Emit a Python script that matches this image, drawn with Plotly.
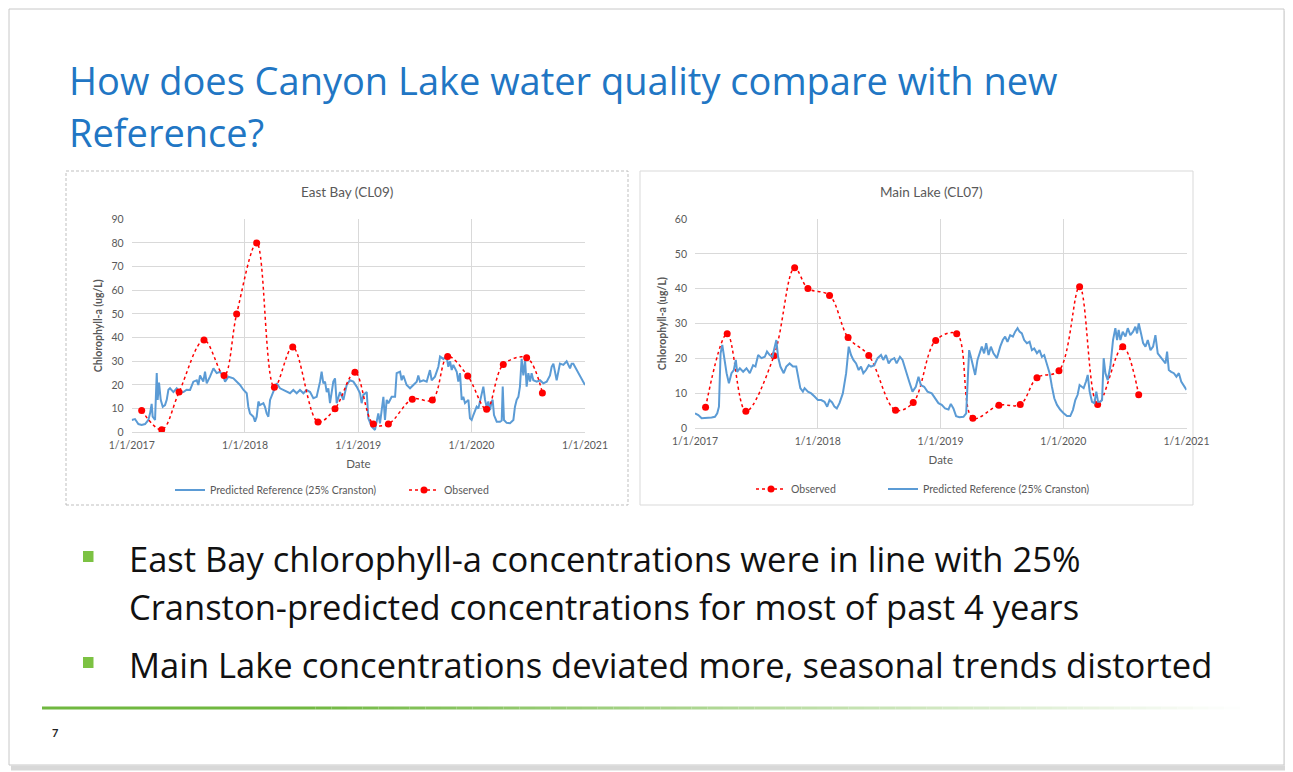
import plotly.graph_objects as go
import pandas as pd
import numpy as np

W, H = 1293, 772

# ---------------- DATA ----------------
year_ticks = [2017, 2018, 2019, 2020, 2021]
year_labels = ["1/1/2017", "1/1/2018", "1/1/2019", "1/1/2020", "1/1/2021"]

# East Bay (CL09) observed (decimal year, ug/L)
eb_obs_t = [2017.088, 2017.265, 2017.418, 2017.638, 2017.815, 2017.926, 2018.103, 2018.259,
            2018.421, 2018.644, 2018.794, 2018.970, 2019.132, 2019.265, 2019.476, 2019.653,
            2019.788, 2019.965, 2020.132, 2020.279, 2020.485, 2020.624]
eb_obs_v = [9.2, 1.1, 17, 39, 24, 50, 80, 19, 36, 4.4, 10, 25.4, 3.5, 3.5, 14, 13.7,
            32, 23.8, 9.7, 28.6, 31.5, 16.6]

# East Bay predicted reference (25% Cranston)
eb_ref_t = [2017.000, 2017.029, 2017.059, 2017.088, 2017.118, 2017.147, 2017.162, 2017.176, 2017.185,
            2017.206, 2017.221, 2017.229, 2017.241, 2017.256, 2017.274, 2017.294, 2017.309, 2017.324,
            2017.338, 2017.368, 2017.397, 2017.426, 2017.456, 2017.485, 2017.515, 2017.544, 2017.574,
            2017.588, 2017.603, 2017.632, 2017.647, 2017.662, 2017.691, 2017.721, 2017.750, 2017.779,
            2017.809, 2017.824, 2017.853, 2017.897, 2017.956, 2017.985, 2018.015, 2018.029, 2018.044,
            2018.074, 2018.088, 2018.103, 2018.118, 2018.132, 2018.162, 2018.176, 2018.191, 2018.206,
            2018.221, 2018.250, 2018.279, 2018.309, 2018.338, 2018.368, 2018.397, 2018.426, 2018.456,
            2018.485, 2018.515, 2018.544, 2018.574, 2018.603, 2018.632, 2018.662, 2018.676, 2018.691,
            2018.706, 2018.721, 2018.735, 2018.750, 2018.779, 2018.794, 2018.809, 2018.838, 2018.868,
            2018.897, 2018.926, 2018.956, 2018.985, 2019.015, 2019.029, 2019.044, 2019.074,
            2019.088, 2019.103, 2019.118, 2019.147, 2019.176, 2019.191, 2019.206, 2019.221, 2019.235,
            2019.250, 2019.265, 2019.294, 2019.324, 2019.338, 2019.368, 2019.382, 2019.397, 2019.426,
            2019.456, 2019.485, 2019.515, 2019.529, 2019.544, 2019.574, 2019.603, 2019.632, 2019.647,
            2019.676, 2019.706, 2019.721, 2019.750, 2019.779, 2019.794, 2019.809, 2019.824, 2019.838,
            2019.868, 2019.882, 2019.897, 2019.912, 2019.926, 2019.941, 2019.971, 2019.985, 2020.000,
            2020.015, 2020.044, 2020.059, 2020.074, 2020.088, 2020.103, 2020.118, 2020.132, 2020.147,
            2020.162, 2020.176, 2020.185, 2020.197, 2020.221, 2020.250, 2020.265, 2020.274, 2020.285,
            2020.309, 2020.338, 2020.368, 2020.382, 2020.397, 2020.412, 2020.426, 2020.441, 2020.456,
            2020.471, 2020.485, 2020.500, 2020.515, 2020.529, 2020.544, 2020.574, 2020.603, 2020.632,
            2020.662, 2020.691, 2020.706, 2020.721, 2020.750, 2020.765, 2020.779, 2020.809, 2020.838,
            2020.868, 2020.882, 2020.897, 2020.926, 2020.956, 2020.985, 2021.000]
eb_ref_v = [5.2, 5.6, 3.5, 3.1, 3.5, 5.2, 8, 12, 6.6,
            5.2, 25, 13.7, 21, 13.7, 10.8, 11.5, 13.7, 18,
            18.6, 17, 18.6, 16.8, 17, 18, 17.9, 21.4, 22,
            20, 24, 21.4, 25.6, 20.7, 23.5, 27, 25, 25.6,
            23.5, 21.4, 23.5, 22.8, 20, 18, 16.5, 10.8, 8,
            6.6, 4.5, 6.6, 13, 11.5, 12.3, 10.8, 8, 6.6,
            13.7, 17, 20.7, 18.6, 17.9, 17, 16.5, 17.9, 16.5,
            17.9, 16.5, 17.9, 17, 14.4, 15, 21.4, 25.6, 20.7,
            21.4, 17, 18.6, 12.3, 21.4, 22.8, 12.3, 17, 13.7,
            20, 22, 21.4, 19.3, 16.5, 12.3, 15.8, 17,
            5.9, 3.8, 2.4, 1.0, 8, 3.8, 10.8, 15, 5.2,
            13.7, 12.3, 15, 15, 25, 25.6, 22, 24, 20,
            18.6, 20, 21.4, 24, 21.4, 22, 21.4, 26.3, 22,
            23.5, 27.7, 32, 31, 32, 27.7, 30, 26.3, 28.5,
            25.6, 21.4, 25, 13.7, 15, 12.3, 13.7, 5.9, 5.2,
            7.3, 10.8, 10, 13.7, 16.5, 19.3, 13.7, 10.8, 13,
            9.4, 13, 13.7, 7.3, 4.5, 4.5, 5, 19.3, 5.2,
            4, 3.8, 5.2, 10.8, 13.7, 15, 19.3, 31, 24,
            30.6, 19.3, 25, 21.4, 25, 22, 21.4, 22, 20.7,
            21.4, 24, 27.7, 29, 22, 26.3, 29, 28.5, 30,
            27, 29, 29, 26.3, 23.5, 21.4, 20]

# Main Lake (CL07) observed
ml_obs_t = [2017.086, 2017.262, 2017.414, 2017.643, 2017.811, 2017.919, 2018.095, 2018.246,
            2018.414, 2018.632, 2018.776, 2018.959, 2019.130, 2019.261, 2019.473, 2019.647,
            2019.783, 2019.962, 2020.130, 2020.277, 2020.481, 2020.611]
ml_obs_v = [6.0, 27.1, 4.9, 20.8, 46, 40.1, 38.1, 26, 20.9, 5.2, 7.4, 25.2, 27.1, 2.9, 6.6, 6.8,
            14.5, 16.5, 40.6, 6.8, 23.4, 9.6]

# Main Lake predicted reference (25% Cranston)
ml_ref_t = [2017.000, 2017.027, 2017.054, 2017.095, 2017.135, 2017.162, 2017.181, 2017.195, 2017.208,
            2017.222, 2017.235, 2017.257, 2017.276, 2017.297, 2017.316, 2017.332, 2017.343, 2017.365,
            2017.392, 2017.419, 2017.446, 2017.473, 2017.492, 2017.514, 2017.541, 2017.568, 2017.586,
            2017.608, 2017.630, 2017.649, 2017.662, 2017.676, 2017.695, 2017.722, 2017.743, 2017.770,
            2017.797, 2017.824, 2017.838, 2017.857, 2017.878, 2017.892, 2017.919, 2017.946, 2017.973,
            2018.000, 2018.027, 2018.054, 2018.076, 2018.095, 2018.116, 2018.135, 2018.154, 2018.176,
            2018.203, 2018.230, 2018.251, 2018.270, 2018.289, 2018.311, 2018.332, 2018.351, 2018.370,
            2018.392, 2018.414, 2018.432, 2018.459, 2018.486, 2018.514, 2018.532, 2018.554, 2018.576,
            2018.595, 2018.622, 2018.641, 2018.668, 2018.689, 2018.716, 2018.743, 2018.770, 2018.797,
            2018.819, 2018.838, 2018.865, 2018.892, 2018.927, 2018.954, 2018.981, 2019.008, 2019.035,
            2019.063, 2019.082, 2019.103, 2019.125, 2019.152, 2019.185, 2019.207, 2019.217, 2019.231,
            2019.245, 2019.261, 2019.280, 2019.299, 2019.315, 2019.334, 2019.353, 2019.370, 2019.389,
            2019.408, 2019.429, 2019.457, 2019.484, 2019.505, 2019.524, 2019.543, 2019.565, 2019.587,
            2019.606, 2019.625, 2019.641, 2019.660, 2019.679, 2019.701, 2019.723, 2019.742, 2019.761,
            2019.783, 2019.804, 2019.823, 2019.842, 2019.864, 2019.886, 2019.905, 2019.924, 2019.946,
            2019.973, 2020.000, 2020.027, 2020.054, 2020.076, 2020.095, 2020.114, 2020.130, 2020.144,
            2020.163, 2020.182, 2020.196, 2020.212, 2020.231, 2020.250, 2020.266, 2020.280, 2020.299,
            2020.313, 2020.326, 2020.340, 2020.359, 2020.380, 2020.402, 2020.421, 2020.435, 2020.448,
            2020.462, 2020.481, 2020.503, 2020.522, 2020.543, 2020.565, 2020.584, 2020.598, 2020.611,
            2020.630, 2020.647, 2020.666, 2020.685, 2020.707, 2020.728, 2020.747, 2020.766, 2020.788,
            2020.810, 2020.829, 2020.842, 2020.856, 2020.875, 2020.897, 2020.918, 2020.938, 2020.957,
            2020.978, 2021.000]
ml_ref_v = [4.3, 3.8, 2.9, 2.9, 3.1, 3.3, 4.3, 6.2, 21.5,
            23.9, 20.5, 15.8, 12.9, 15.8, 16.7, 19.6, 16.2, 17.2,
            16.2, 17.2, 15.8, 18.1, 17.7, 21.0, 20.1, 20.5, 22,
            21, 20.5, 23.4, 25.3, 20.5, 17.7, 15.8, 17.7, 18.6,
            17.7, 17.7, 14.8, 11.5, 10.5, 11.5, 10.5, 10.0, 9.1,
            8.1, 8.1, 7.6, 6.2, 8.1, 7.4, 6.2, 5.7, 7.2,
            10.0, 15.8, 23.4, 21, 19.6, 18.6, 16.7, 17.7, 15.8,
            16.7, 18.1, 17.7, 18.1, 20.1, 21, 19.6, 21, 18.6,
            19.6, 20.1, 18.6, 20.5, 19.6, 16.2, 13.4, 10.5, 11.9,
            14.8, 12.4, 11.9, 10.5, 10, 8.6, 7.2, 6.7, 5.7,
            5.4, 7, 5.7, 3.5, 3.2, 3.3, 4.3, 13.8, 22.4,
            20.5, 17.7, 15.3, 19.6, 21.5, 23.4, 21.5, 24.4, 21,
            23.4, 21.5, 20.1, 23.4, 25.3, 26.3, 24.8, 26.7, 26.3,
            27.7, 28.7, 27.7, 27.2, 25.3, 24.4, 24.8, 22.4, 22.9,
            21.5, 22.4, 20.5, 21, 18.6, 15.8, 11.9, 8.6, 6.7,
            5.3, 4.3, 3.5, 3.5, 5.3, 8.1, 9.6, 12.4, 11.9,
            11.5, 13.4, 15.3, 10.5, 7.6, 7.2, 10.5, 7.6, 7.6,
            8.1, 20.1, 15.8, 13.8, 17.7, 25.3, 28.7, 25.3, 28.2,
            25.3, 27.7, 26.3, 28.7, 26.7, 27.7, 29.1, 27.2, 30.1,
            27.2, 24.4, 23.4, 25.3, 22.4, 23.4, 26.7, 21.5, 20.5,
            19.6, 18.6, 22, 16.7, 16.2, 15.8, 14.8, 15.8, 13.4,
            12.4, 11]

title_lines = ["How does Canyon Lake water quality compare with new", "Reference?"]
bullets = ["East Bay chlorophyll-a concentrations were in line with 25%",
           "Cranston-predicted concentrations for most of past 4 years",
           "Main Lake concentrations deviated more, seasonal trends distorted"]
ref_name = "Predicted Reference (25% Cranston)"
obs_name = "Observed"


def to_dates(years):
    base = pd.Timestamp("2017-01-01")
    return [base + pd.Timedelta(days=(y - 2017) * 365.25) for y in years]


tick_dates = [pd.Timestamp(f"{y}-01-01") for y in year_ticks]

# ---------------- STYLE ----------------
BLUE = "#5B9BD5"
RED = "#FF0000"
GRID = "#D9D9D9"
TXT = "#595959"
FONT = "Lato"
OFF = 8  # page body margin offset


def px(x):
    return (x - OFF) / W


def py(y):
    return 1 - (y - OFF) / H


fig = go.Figure()

obs_line = dict(color=RED, width=1.5, dash="dot", shape="spline", smoothing=1.0)
# Left chart traces
fig.add_trace(go.Scatter(x=to_dates(eb_ref_t), y=eb_ref_v, mode="lines", name=ref_name,
                         line=dict(color=BLUE, width=2), xaxis="x", yaxis="y", legend="legend"))
fig.add_trace(go.Scatter(x=to_dates(eb_obs_t), y=eb_obs_v, mode="lines+markers", name=obs_name,
                         line=obs_line, marker=dict(color=RED, size=7),
                         xaxis="x", yaxis="y", legend="legend2"))
# Right chart traces
fig.add_trace(go.Scatter(x=to_dates(ml_obs_t), y=ml_obs_v, mode="lines+markers", name=obs_name,
                         line=obs_line, marker=dict(color=RED, size=7),
                         xaxis="x2", yaxis="y2", legend="legend3"))
fig.add_trace(go.Scatter(x=to_dates(ml_ref_t), y=ml_ref_v, mode="lines", name=ref_name,
                         line=dict(color=BLUE, width=2), xaxis="x2", yaxis="y2", legend="legend4"))

common_x = dict(type="date", range=[tick_dates[0], tick_dates[-1]], tickmode="array",
                tickvals=tick_dates, ticktext=year_labels, showgrid=True, gridcolor=GRID,
                gridwidth=1, showline=True, linecolor=GRID, zeroline=False, ticks="",
                ticklabelstandoff=3,
                tickfont=dict(family=FONT, size=10.5, color=TXT),
                title=dict(text="Date", font=dict(family=FONT, size=11.5, color=TXT), standoff=10))
common_y = dict(showgrid=True, gridcolor=GRID, gridwidth=1, zeroline=False, showline=False,
                dtick=10, ticks="", ticklabelstandoff=7,
                tickfont=dict(family=FONT, size=10.5, color=TXT),
                title=dict(text="<b>Chlorophyll-a (ug/L)</b>",
                           font=dict(family=FONT, size=10.5, color=TXT), standoff=6))


def leg(x_sample, y_center):
    return dict(orientation="h", x=px(x_sample - 6), y=py(y_center), xanchor="left", yanchor="middle",
                font=dict(family=FONT, size=10.5, color=TXT), bgcolor="rgba(0,0,0,0)")


fig.update_layout(
    width=W, height=H, margin=dict(l=0, r=0, t=0, b=0, autoexpand=False),
    paper_bgcolor="white", plot_bgcolor="white",
    xaxis=dict(domain=[px(131.7), px(585)], anchor="y", **common_x),
    yaxis=dict(domain=[py(432.3), py(219.3)], anchor="x", range=[0, 90], **common_y),
    xaxis2=dict(domain=[px(695), px(1186.5)], anchor="y2", **common_x),
    yaxis2=dict(domain=[py(428.3), py(219)], anchor="x2", range=[0, 60], **common_y),
    legend=leg(176, 490),
    legend2=leg(410, 490),
    legend3=leg(757, 489),
    legend4=leg(889, 489),
    showlegend=True,
)

shapes = []
# slide border and shadow
shapes.append(dict(type="rect", xref="paper", yref="paper", x0=px(9), x1=px(1284), y0=py(765), y1=py(9),
                   line=dict(color="#C8C8C8", width=1), layer="below"))
shapes.append(dict(type="line", xref="paper", yref="paper", x0=px(1287), x1=px(1287), y0=py(768), y1=py(11),
                   line=dict(color="#D2D2D2", width=5), layer="below"))
shapes.append(dict(type="line", xref="paper", yref="paper", x0=px(11), x1=px(1292), y0=py(768), y1=py(768),
                   line=dict(color="#D8D8D8", width=5), layer="below"))
# chart frames
shapes.append(dict(type="rect", xref="paper", yref="paper", x0=px(66), x1=px(628), y0=py(505), y1=py(171),
                   line=dict(color="#BFBFBF", width=1, dash="3px,2px"), layer="below"))
shapes.append(dict(type="rect", xref="paper", yref="paper", x0=px(640), x1=px(1193), y0=py(505), y1=py(171),
                   line=dict(color="#D9D9D9", width=1), layer="below"))
# bullet squares
for yc in (556.5, 662.5):
    shapes.append(dict(type="rect", xref="paper", yref="paper", x0=px(83), x1=px(93.5),
                       y0=py(yc + 5.5), y1=py(yc - 5.5), fillcolor="#7CC243", line=dict(width=0)))
# green fading rule
n = 60
x_start, x_solid, x_end = 42, 300, 1240
segs = np.linspace(x_solid, x_end, n + 1)
shapes.append(dict(type="line", xref="paper", yref="paper", x0=px(x_start), x1=px(x_solid),
                   y0=py(708), y1=py(708), line=dict(color="rgb(112,184,64)", width=3)))
for i in range(n):
    f = (i + 0.5) / n
    r = int(112 + (255 - 112) * f)
    g = int(184 + (255 - 184) * f)
    b = int(64 + (255 - 64) * f)
    shapes.append(dict(type="line", xref="paper", yref="paper", x0=px(segs[i]), x1=px(segs[i + 1]),
                       y0=py(708), y1=py(708), line=dict(color=f"rgb({r},{g},{b})", width=3)))
fig.update_layout(shapes=shapes)


def note(text, x, y, size, family=FONT, color=TXT, xanchor="center"):
    return dict(text=text, x=px(x), y=py(y), xref="paper", yref="paper", xanchor=xanchor,
                yanchor="middle", showarrow=False, font=dict(family=family, size=size, color=color))


ann = [
    note(title_lines[0], 67, 80, 38, "Open Sans", "#2176C4", "left"),
    note(title_lines[1], 67, 132, 38, "Open Sans", "#2176C4", "left"),
    note("East Bay (CL09)", 347, 192, 13.5),
    note("Main Lake (CL07)", 931, 192, 13.5),
]
for txt, yc in zip(bullets, (558, 606, 664)):
    ann.append(note(txt, 127, yc, 34.5, "Open Sans", "#111111", "left"))
ann.append(note("<b>7</b>", 55, 732, 11, FONT, "#222222"))
fig.update_layout(annotations=ann)

fig.write_html("out.html")
